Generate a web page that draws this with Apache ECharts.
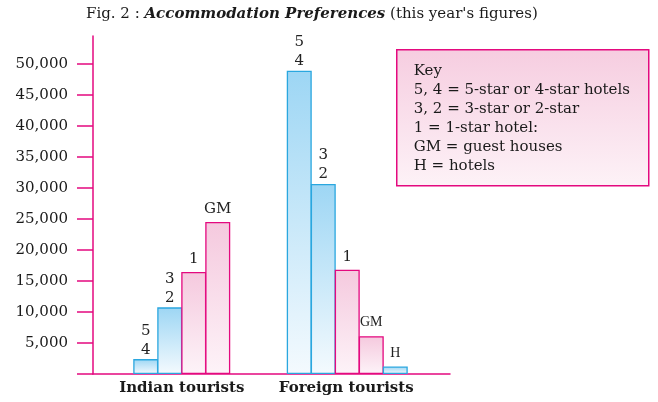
<!DOCTYPE html>
<html lang="en">
<head>
    <meta charset="UTF-8">
    <title>Accommodation Preferences</title>
    <script src="https://cdn.jsdelivr.net/npm/echarts@6/dist/echarts.min.js"></script>
</head>
<body style="margin:0;background:#ffffff">
<div id="chart" style="width: 658px;height: 402px;"></div>
<script>
    // groups on the x axis
    var groups = ['Indian tourists', 'Foreign tourists'];
    // one series per kind of accommodation, values for [Indian, Foreign]
    var kinds = ['5, 4', '3, 2', '1', 'GM', 'H'];
    var barTags = ['5\n4', '3\n2', '1', 'GM', 'H'];
    var stars54 = [2400, 48900];
    var stars32 = [10750, 30650];
    var star1 = [16450, 16800];
    var guestHouses = [24500, 6100];
    var hotels = ['-', 1200];
    // y axis ticks
    var yTicks = [5000, 10000, 15000, 20000, 25000, 30000, 35000, 40000, 45000, 50000];
    var yMax = 54500;
    // key box text
    var keyLines = [
        'Key',
        '5, 4 = 5-star or 4-star hotels',
        '3, 2 = 3-star or 2-star',
        '1 = 1-star hotel:',
        'GM = guest houses',
        'H = hotels'
    ];

    var MAGENTA = '#e4097f';
    var BLUE = '#2aa7df';
    var SERIF = '"DejaVu Serif", serif';
    var NARROW = '"Liberation Serif", serif';

    function grad(top, bottom) {
        return new echarts.graphic.LinearGradient(0, 0, 0, 1, [
            {offset: 0, color: top},
            {offset: 1, color: bottom}
        ]);
    }
    var blueFill = grad('#9dd6f4', '#f4fafe');
    var pinkFill = grad('#f5c9de', '#fdf3f8');

    var allValues = [stars54, stars32, star1, guestHouses, hotels];
    var isBlue = [true, true, false, false, true];

    var series = kinds.map(function (name, i) {
        var twoLines = barTags[i].indexOf('\n') >= 0;
        return {
            name: name,
            type: 'bar',
            xAxisIndex: 1,
            yAxisIndex: 1,
            barWidth: 25,
            barGap: '-4%',
            itemStyle: {
                color: isBlue[i] ? blueFill : pinkFill,
                borderColor: isBlue[i] ? BLUE : MAGENTA,
                borderWidth: 1.3
            },
            label: {
                show: true,
                position: 'top',
                distance: twoLines ? 0 : 3,
                formatter: barTags[i],
                fontFamily: SERIF,
                fontSize: 15,
                lineHeight: 19,
                color: '#222'
            },
            data: allValues[i].map(function (v, g) {
                // small tags in the foreign group
                if (g === 1 && i >= 3) {
                    return {value: v, label: {fontSize: 14, fontFamily: NARROW, distance: 4}};
                }
                return v;
            })
        };
    });

    var chart = echarts.init(document.getElementById('chart'));
    var option = {
        animation: false,
        backgroundColor: '#ffffff',
        title: {
            text: '{n|Fig. 2 : }{b|Accommodation Preferences}{n| (this year\'s figures)}',
            left: 81,
            top: 2,
            textStyle: {
                fontWeight: 'normal',
                rich: {
                    n: {fontFamily: SERIF, fontSize: 15, fontWeight: 'normal', color: '#1a1a1a'},
                    b: {fontFamily: SERIF, fontSize: 15, fontWeight: 'bold', fontStyle: 'italic', color: '#1a1a1a'}
                }
            }
        },
        grid: [
            // frame: y axis and baseline
            {left: 93, right: 208, top: 36, bottom: 28},
            // bars
            {left: 117, right: 234, top: 36, bottom: 28}
        ],
        xAxis: [{
            gridIndex: 0,
            type: 'value',
            min: 0,
            max: 1,
            axisLine: {show: true, onZero: false, lineStyle: {color: MAGENTA, width: 1.5}},
            axisTick: {show: false},
            axisLabel: {show: false},
            splitLine: {show: false}
        }, {
            gridIndex: 1,
            type: 'category',
            data: groups,
            axisLine: {show: false},
            axisTick: {show: false},
            axisLabel: {
                margin: 7,
                formatter: function (v, idx) {
                    return idx === 0 ? '{i|' + v + '}' : '{f|' + v + '}';
                },
                rich: {
                    i: {fontFamily: SERIF, fontSize: 15, fontWeight: 'bold', color: '#1a1a1a', padding: [0, 24, 0, 0]},
                    f: {fontFamily: SERIF, fontSize: 15, fontWeight: 'bold', color: '#1a1a1a', padding: [0, 2, 0, 0]}
                }
            }
        }],
        yAxis: [{
            gridIndex: 0,
            type: 'value',
            min: 0,
            max: yMax,
            interval: 5000,
            axisLine: {show: true, lineStyle: {color: MAGENTA, width: 1.5}},
            axisTick: {
                show: true,
                length: 16,
                customValues: [0].concat(yTicks),
                lineStyle: {color: MAGENTA, width: 1.5}
            },
            axisLabel: {
                customValues: yTicks,
                margin: 25,
                fontFamily: SERIF,
                fontSize: 15,
                color: '#1a1a1a',
                formatter: function (v) {
                    return v.toLocaleString('en-US');
                }
            },
            splitLine: {show: false}
        }, {
            gridIndex: 1,
            type: 'value',
            min: 0,
            max: yMax,
            show: false
        }],
        graphic: [{
            type: 'group',
            left: 396,
            top: 49,
            children: [{
                type: 'rect',
                shape: {x: 0, y: 0, width: 252, height: 136},
                style: {fill: grad('#f6cde0', '#fdf2f7'), stroke: MAGENTA, lineWidth: 1.5}
            }, {
                type: 'text',
                x: 17,
                y: 12,
                style: {
                    text: keyLines.join('\n'),
                    font: '15px ' + SERIF,
                    lineHeight: 19,
                    fill: '#1a1a1a'
                }
            }]
        }],
        series: series
    };
    chart.setOption(option);
</script>
</body>
</html>
